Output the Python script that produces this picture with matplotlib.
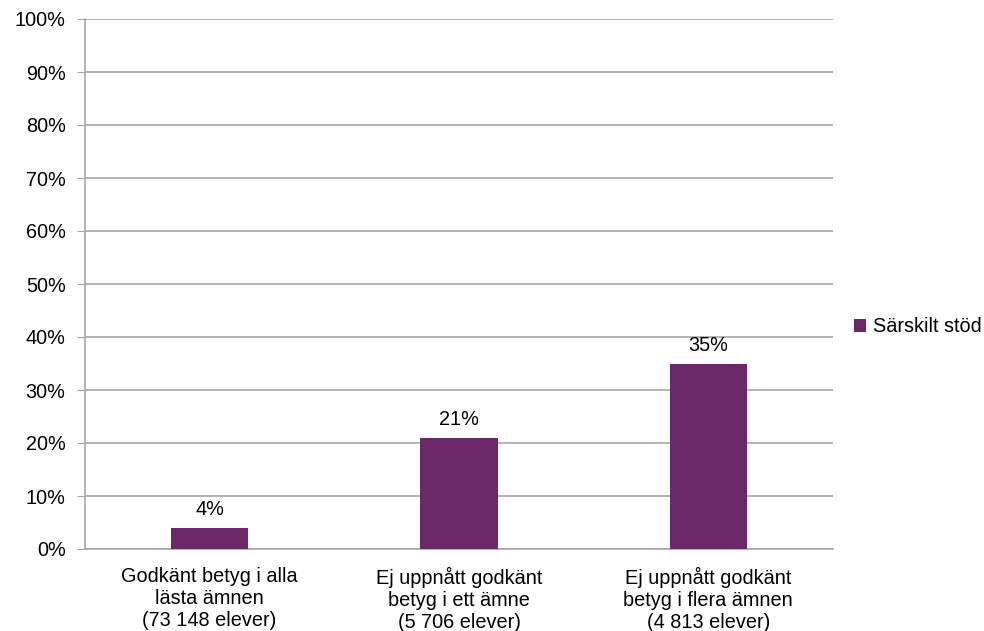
import numpy as np
import matplotlib.pyplot as plt

categories = ['Godkänt betyg i alla\nlästa ämnen\n(73 148 elever)',
              'Ej uppnått godkänt\nbetyg i ett ämne\n(5 706 elever)',
              'Ej uppnått godkänt\nbetyg i flera ämnen\n(4 813 elever)']
values = [4, 21, 35]
series_name = 'Särskilt stöd'

plt.rcParams['font.family'] = ['Liberation Sans', 'DejaVu Sans']

fig = plt.figure(figsize=(9.84, 6.31), dpi=100)
ax = fig.add_axes([85 / 984, 1 - 549 / 631, (833 - 85) / 984, (549 - 19) / 631])

x = np.arange(len(categories))
ax.bar(x, values, width=0.31, color='#6B2768', label=series_name, zorder=3)
for xi, v in zip(x, values):
    ax.text(xi, v + 1.6, f'{v}%', ha='center', va='bottom', fontsize=14.3)

ax.set_xlim(-0.5, 2.5)
ax.set_ylim(0, 100)
ax.set_yticks(np.arange(0, 101, 10))
ax.set_yticklabels([f'{t}%' for t in range(0, 101, 10)], fontsize=14.3)
ax.set_xticks(x)
ax.set_xticklabels(categories, fontsize=14.3, linespacing=1.2)
ax.tick_params(axis='x', length=0, pad=13)
ax.tick_params(axis='y', length=6, color='#A6A6A6', pad=8)
ax.yaxis.grid(True, color='#A6A6A6', linewidth=1.2, zorder=0)
for side in ['top', 'right']:
    ax.spines[side].set_visible(False)
for side in ['left', 'bottom']:
    ax.spines[side].set_color('#A6A6A6')
    ax.spines[side].set_linewidth(1.2)

ax.legend(loc='center left', bbox_to_anchor=(1.028, 0.419), frameon=False,
          borderaxespad=0, borderpad=0, fontsize=14.3,
          handlelength=0.6, handleheight=0.6, handletextpad=0.35)

fig.savefig('out.png', dpi=100)
